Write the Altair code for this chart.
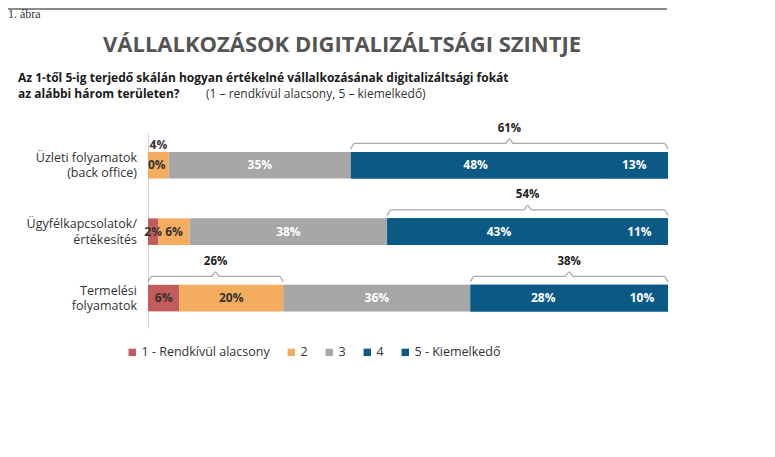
import altair as alt
import pandas as pd

# ---------------- data ----------------
categories = [
    ["Üzleti folyamatok", "(back office)"],
    ["Ügyfélkapcsolatok/", "értékesítés"],
    ["Termelési", "folyamatok"],
]
levels = ["1 - Rendkívül alacsony", "2", "3", "4", "5 - Kiemelkedő"]
level1 = [0, 2, 6]
level2 = [4, 6, 20]
level3 = [35, 38, 36]
level4 = [48, 43, 28]
level5 = [13, 11, 10]
high_share = [61, 54, 38]      # 4 + 5
low_share = [None, None, 26]   # 1 + 2 (shown only where marked)

colors = ["#c35a5b", "#f4ad5e", "#a7a7a7", "#0b5a86", "#0b5a86"]

title_text = "VÁLLALKOZÁSOK DIGITALIZÁLTSÁGI SZINTJE"
sub1 = "Az 1-től 5-ig terjedő skálán hogyan értékelné vállalkozásának digitalizáltsági fokát"
sub2a = "az alábbi három területen?"
sub2b = "(1 – rendkívül alacsony, 5 – kiemelkedő)"
fig_label = "1. ábra"

# ---------------- geometry helpers ----------------
W, H = 520, 196
Y_DOMAIN = [-0.5, 2.45]
PY = (Y_DOMAIN[1] - Y_DOMAIN[0]) / H   # data units per pixel (y)
PX = 100 / W                           # data units per pixel (x)
HALF = 0.2                             # half bar height in row units

series = [level1, level2, level3, level4, level5]
rows = []
for r in range(len(categories)):
    cum = 0
    for li, vals in enumerate(series):
        v = vals[r]
        rows.append(dict(row=r, lvl=li + 1, level=levels[li], value=v,
                         start=cum, end=cum + v, mid=cum + v / 2,
                         label=f"{v}%"))
        cum += v
bars = pd.DataFrame(rows)

cat_lines = pd.DataFrame([dict(row=r, l1=c[0], l2=c[1]) for r, c in enumerate(categories)])

# brackets
brk_pts = []
brk_lbl = []
hi_band = []
bid = 0
for r in range(len(categories)):
    specs = []
    s_hi = level1[r] + level2[r] + level3[r]
    e_hi = s_hi + level4[r] + level5[r]
    hi_band.append(dict(row=r, start=s_hi, end=e_hi))
    specs.append((s_hi, e_hi, high_share[r]))
    if low_share[r] is not None:
        specs.append((0, level1[r] + level2[r], low_share[r]))
    for s, e, val in specs:
        top = r - HALF
        tip = top - 3 * PY
        line = top - 8.5 * PY
        peak = top - 13 * PY
        rad = 4 * PX
        m = (s + e) / 2
        pts = [(s, tip), (s + rad, line), (m - rad, line), (m, peak),
               (m + rad, line), (e - rad, line), (e, tip)]
        for o, (x, y) in enumerate(pts):
            brk_pts.append(dict(bid=bid, o=o, x=x, y=y))
        brk_lbl.append(dict(x=m, y=top - 23 * PY, label=f"{val}%"))
        bid += 1
brk_pts = pd.DataFrame(brk_pts)
brk_lbl = pd.DataFrame(brk_lbl)
hi_band = pd.DataFrame(hi_band)

# ---------------- scales / axes ----------------
FONT = "Open Sans"

y_axis = alt.Axis(values=[0, 1, 2], labels=False, ticks=False, grid=False,
                  domainColor="#d4d4d4", domainWidth=1, title=None)
y_scale = alt.Scale(domain=Y_DOMAIN, reverse=True, nice=False, zero=False)
x_scale = alt.Scale(domain=[0, 100], nice=False, zero=False)
c_scale = alt.Scale(domain=levels, range=colors)

base = alt.Chart(bars)

# underlay for the (same-coloured) 4 + 5 span, hides anti-aliasing seams
band = alt.Chart(hi_band).mark_rect(color=colors[3]).transform_calculate(
    y_top=f"datum.row - {HALF}", y_bot=f"datum.row + {HALF}"
).encode(
    x=alt.X("start:Q", scale=x_scale, axis=None),
    x2="end:Q",
    y=alt.Y("y_top:Q", scale=y_scale, axis=y_axis),
    y2="y_bot:Q",
)

rect = base.mark_rect().transform_calculate(
    y_top=f"datum.row - {HALF}", y_bot=f"datum.row + {HALF}"
).encode(
    x=alt.X("start:Q", scale=x_scale, axis=None),
    x2="end:Q",
    y=alt.Y("y_top:Q", scale=y_scale, axis=y_axis),
    y2="y_bot:Q",
    color=alt.Color("level:N", scale=c_scale,
                    legend=alt.Legend(orient="none", legendX=-22, legendY=214,
                                      direction="horizontal", columns=5, title=None,
                                      symbolType="square", symbolSize=55,
                                      symbolStrokeWidth=0, labelFontSize=12.5,
                                      labelFont=FONT, labelColor="#333333",
                                      columnPadding=15, labelOffset=3)),
)

cat1 = alt.Chart(cat_lines).mark_text(
    font=FONT, fontSize=12.5, color="#333333", align="right", baseline="middle", dy=-7.5
).encode(x=alt.value(-11), y=alt.Y("row:Q", scale=y_scale, axis=y_axis), text="l1:N")
cat2 = alt.Chart(cat_lines).mark_text(
    font=FONT, fontSize=12.5, color="#333333", align="right", baseline="middle", dy=8
).encode(x=alt.value(-11), y=alt.Y("row:Q", scale=y_scale, axis=y_axis), text="l2:N")

txt_color = alt.condition("datum.lvl <= 2", alt.value("#333333"), alt.value("#ffffff"))

seg_lbl = base.transform_filter("!(datum.row == 0 && datum.lvl <= 2)").mark_text(
    font=FONT, fontSize=12, fontWeight="bold", baseline="middle"
).encode(
    x=alt.X("mid:Q", scale=x_scale, axis=None),
    y=alt.Y("row:Q", scale=y_scale, axis=y_axis),
    text="label:N",
    color=txt_color,
)

zero_lbl = base.transform_filter("datum.row == 0 && datum.lvl == 1").mark_text(
    font=FONT, fontSize=12, fontWeight="bold", baseline="middle", align="left", color="#333333"
).encode(
    x=alt.X("start:Q", scale=x_scale, axis=None),
    y=alt.Y("row:Q", scale=y_scale, axis=y_axis),
    text="label:N",
)

above_lbl = base.transform_filter("datum.row == 0 && datum.lvl == 2").transform_calculate(
    ya=f"datum.row - {HALF} - {7 * PY}"
).mark_text(
    font=FONT, fontSize=12, fontWeight="bold", baseline="middle", color="#333333"
).encode(
    x=alt.X("mid:Q", scale=x_scale, axis=None),
    y=alt.Y("ya:Q", scale=y_scale, axis=y_axis),
    text="label:N",
)

brackets = alt.Chart(brk_pts).mark_line(
    interpolate="monotone", color="#a8a8a8", strokeWidth=1.3
).encode(
    x=alt.X("x:Q", scale=x_scale, axis=None),
    y=alt.Y("y:Q", scale=y_scale, axis=y_axis),
    detail="bid:N",
    order="o:Q",
)

brk_text = alt.Chart(brk_lbl).mark_text(
    font=FONT, fontSize=11.5, fontWeight="bold", color="#222222", baseline="middle"
).encode(
    x=alt.X("x:Q", scale=x_scale, axis=None),
    y=alt.Y("y:Q", scale=y_scale, axis=y_axis),
    text="label:N",
)


def note(text, x, y, **kw):
    return alt.Chart(pd.DataFrame({"t": [text]})).mark_text(baseline="middle", **kw).encode(
        text="t:N", x=alt.value(x), y=alt.value(y)
    )


top_rule = alt.Chart(pd.DataFrame({"a": [0]})).mark_rule(color="#8c8c8c", strokeWidth=2).encode(
    x=alt.value(-140), x2=alt.value(519), y=alt.value(-123)
)

header = [
    top_rule,
    note(fig_label, -140, -118, align="left", font="Liberation Serif", fontSize=12, color="#333333"),
    note(title_text, 194, -87, align="center", font=FONT, fontSize=22, fontWeight="bold", color="#555555"),
    note(sub1, -130, -54, align="left", font=FONT, fontSize=12, fontWeight="bold", color="#1a1a1a"),
    note(sub2a, -130, -38, align="left", font=FONT, fontSize=12, fontWeight="bold", color="#1a1a1a"),
    note(sub2b, 58, -38, align="left", font=FONT, fontSize=12, color="#333333"),
]

chart = alt.layer(
    band, rect, cat1, cat2, seg_lbl, zero_lbl, above_lbl, brackets, brk_text, *header
).properties(
    width=W, height=H,
    autosize=alt.AutoSizeParams(type="none"),
    padding={"left": 140, "top": 124, "right": 90, "bottom": 100},
).configure(background="white").configure_view(stroke=None)

chart.save("out.html", embed_options={"renderer": "svg", "actions": False})
